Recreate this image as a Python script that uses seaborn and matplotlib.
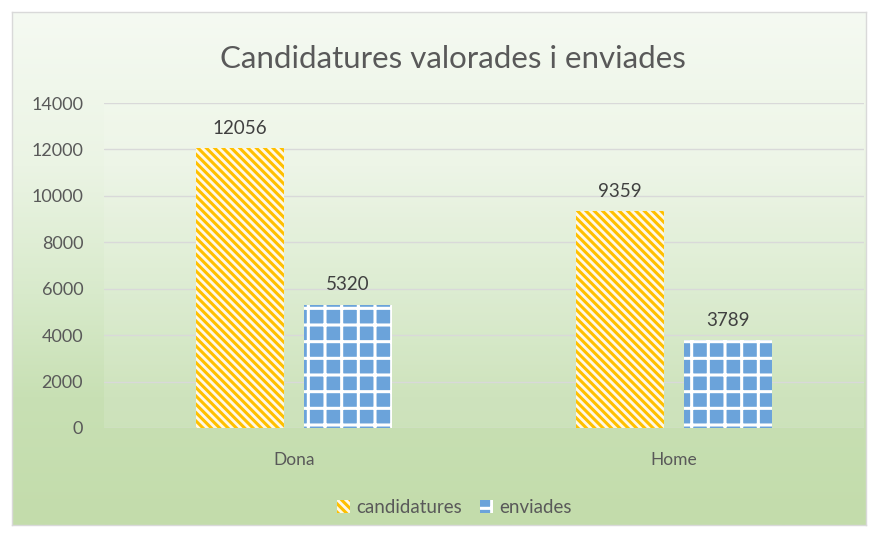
import matplotlib
matplotlib.use("Agg")
import matplotlib.pyplot as plt
from matplotlib.colors import LinearSegmentedColormap
import seaborn as sns
import numpy as np
import pandas as pd

# dades del grafic
grups = ["Dona", "Home"]
series = ["candidatures", "enviades"]
candidatures = [12056, 9359]
enviades = [5320, 3789]
yticks = [0, 2000, 4000, 6000, 8000, 10000, 12000, 14000]

df = pd.DataFrame({
    "grup": grups * 2,
    "serie": [series[0]] * 2 + [series[1]] * 2,
    "valor": candidatures + enviades,
})

sns.set_theme(style="white")
plt.rcParams["font.family"] = ["Lato", "DejaVu Sans"]
plt.rcParams["hatch.linewidth"] = 2.2

fig = plt.figure(figsize=(8.77, 5.33), dpi=100)
fig.patch.set_facecolor("white")

# fons amb degradat (area del grafic)
bg = fig.add_axes([12 / 877, 8 / 533, 854 / 877, 513 / 533], zorder=-2)
grad_cmap = LinearSegmentedColormap.from_list(
    "fons", [(0, "#F5FAF2"), (0.3, "#EBF4E4"), (0.55, "#D8EACB"),
             (0.75, "#C8E0B4"), (1, "#C3DCAB")])
grad = np.linspace(0, 1, 256).reshape(-1, 1)
bg.imshow(grad, aspect="auto", cmap=grad_cmap, extent=[0, 1, 0, 1], origin="upper")
bg.set_xticks([])
bg.set_yticks([])
for s in bg.spines.values():
    s.set_color("#D9D9D9")
    s.set_linewidth(1)

ax = fig.add_axes([104 / 877, 105 / 533, 760 / 877, 325 / 533])
ax.patch.set_facecolor("white")
ax.patch.set_alpha(0.12)

sns.barplot(data=df, x="grup", y="valor", hue="serie", order=grups,
            hue_order=series, width=0.567, gap=0.185, ax=ax, legend=False)

estils = [
    dict(facecolor="#FFF8E6", edgecolor="#FFC000", hatch="\\\\\\\\"),
    dict(facecolor="#6BA3DA", edgecolor="#FFFFFF", hatch="+"),
]
for cont, est in zip(ax.containers, estils):
    for p in cont.patches:
        p.set_facecolor(est["facecolor"])
        p.set_edgecolor(est["edgecolor"])
        p.set_hatch(est["hatch"])
        p.set_linewidth(0)
    ax.bar_label(cont, fmt="%d", padding=8, color="#404040", fontsize=13.5)

ax.set_ylim(0, 14000)
ax.set_yticks(yticks)
ax.set_yticklabels([str(v) for v in yticks], color="#595959", fontsize=13)
ax.tick_params(axis="y", length=0, pad=15)
ax.tick_params(axis="x", length=0, pad=17, labelsize=12.5, labelcolor="#595959")
ax.set_xlabel("")
ax.set_ylabel("")
ax.set_xlim(-0.5, 1.5)
ax.yaxis.grid(True, color="#D9D9D9", linewidth=1)
ax.set_axisbelow(True)
for s in ax.spines.values():
    s.set_visible(False)

fig.text(0.516, 0.89, "Candidatures valorades i enviades", ha="center",
         va="center", fontsize=22.5, color="#595959")

handles = [c.patches[0] for c in ax.containers]
fig.legend(handles, series, loc="center", bbox_to_anchor=(0.518, 0.048),
           ncol=2, frameon=False, fontsize=13.5, labelcolor="#595959",
           handlelength=0.7, handleheight=0.7, handletextpad=0.3,
           columnspacing=1.0)

fig.savefig("out.png", dpi=100)
